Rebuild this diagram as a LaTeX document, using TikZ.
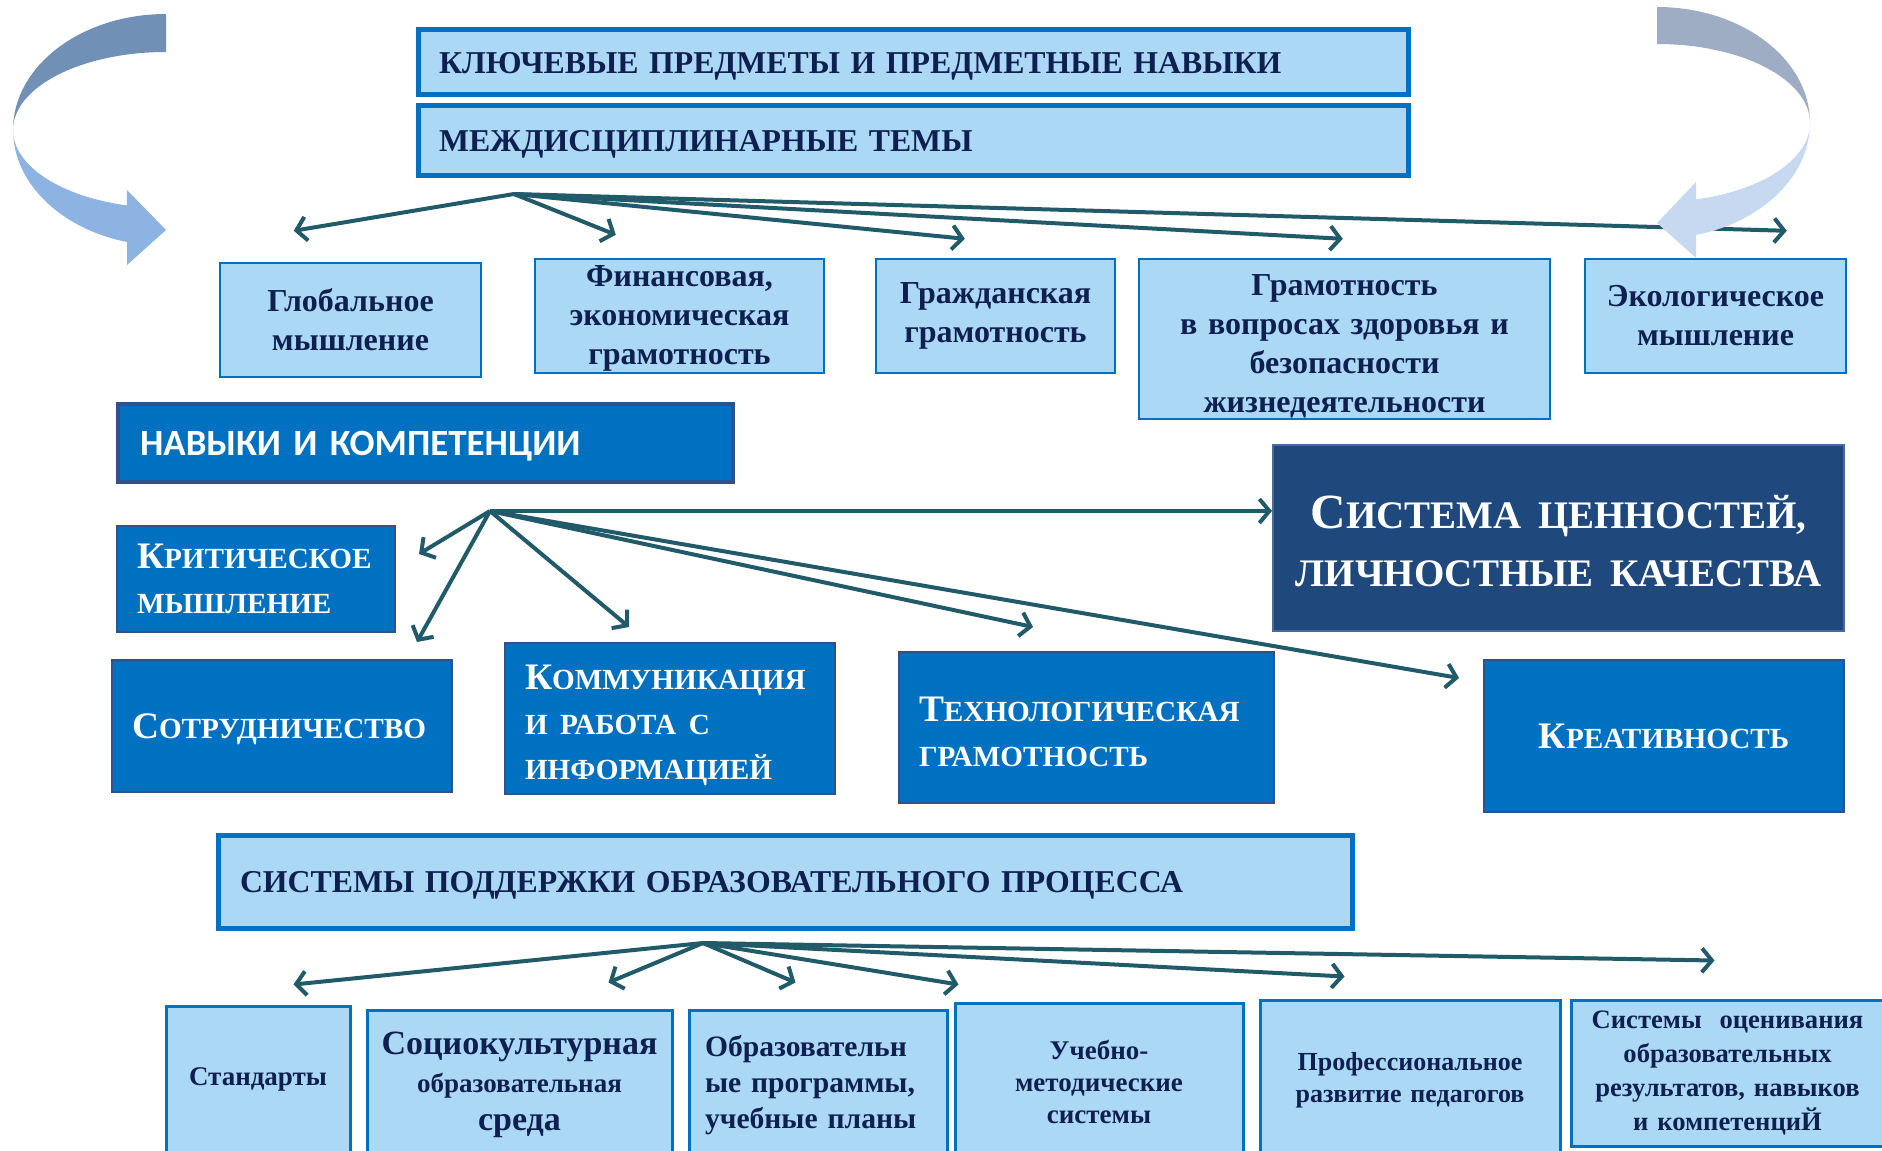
\documentclass[tikz,border=0pt]{standalone}
\usepackage{fontspec}
\setmainfont{Liberation Serif}
\setsansfont{Carlito}
\usetikzlibrary{calc}
\usetikzlibrary{arrows.meta}

\definecolor{navytxt}{HTML}{0F2050}
\definecolor{lightfill}{HTML}{ABD9F5}
\definecolor{boxline}{HTML}{0070C0}
\definecolor{midfill}{HTML}{0070C0}
\definecolor{midline}{HTML}{2F528F}
\definecolor{darkfill}{HTML}{1F497D}
\definecolor{darkline}{HTML}{4A6A98}
\definecolor{fanline}{HTML}{215A69}
\definecolor{ldark}{HTML}{7090B6}
\definecolor{llight}{HTML}{8DB3E2}
\definecolor{rdark}{HTML}{9EADC3}
\definecolor{rlight}{HTML}{C6D9F0}

\newcommand{\scA}[1]{{\fontsize{19.5}{29}\selectfont #1}}
\newcommand{\scB}[1]{{\fontsize{14.6}{22.5}\selectfont #1}}
\newcommand{\lgtxt}[1]{{\fontsize{17}{19}\selectfont #1}}
\newcommand{\lift}[1]{\rule{0pt}{#1}}

\begin{document}
\begin{tikzpicture}[x=0.5pt,y=-0.5pt,
  headbox/.style={draw=boxline,line width=2.5pt,fill=lightfill,text=navytxt,font=\bfseries\fontsize{15.9}{19}\selectfont,align=left,inner xsep=10.5pt,inner ysep=0pt,text height=11pt,text depth=0pt},
  topic/.style={draw=boxline,line width=1.2pt,fill=lightfill,text=navytxt,font=\bfseries\fontsize{16}{19.5}\selectfont,align=center,inner sep=0pt},
  skill/.style={draw=midline,line width=1pt,fill=midfill,text=white,font=\bfseries\fontsize{18.7}{22.5}\selectfont,align=left,inner xsep=10pt,inner ysep=0pt},
  support/.style={draw=boxline,line width=1.5pt,fill=lightfill,text=navytxt,align=center,inner sep=0pt},
  fan/.style={draw=fanline,line width=2pt,-{Straight Barb[length=5pt,width=12pt]}}]
\useasboundingbox (0,0) rectangle (1882,1150);
\clip (0,0) rectangle (1882,1150);

\node[headbox,text width=474pt,minimum height=32.5pt] (keys) at (913,62.5) {КЛЮЧЕВЫЕ ПРЕДМЕТЫ И ПРЕДМЕТНЫЕ НАВЫКИ};
\node[headbox,text width=474pt,minimum height=35pt] (themes) at (913,141) {МЕЖДИСЦИПЛИНАРНЫЕ ТЕМЫ};

\node[topic,text width=130.5pt,minimum height=57pt] (glob) at (350.5,320) {Глобальное\\мышление};
\node[topic,text width=144.5pt,minimum height=57pt] (fin) at (679.5,316) {\lift{13pt}Финансовая,\\экономическая\\грамотность};
\node[topic,text width=119.5pt,minimum height=57pt] (civ) at (995.5,316) {Гражданская\\грамотность};
\node[topic,text width=205.5pt,minimum height=80pt] (health) at (1344.5,339) {\lift{17.5pt}Грамотность\\в вопросах здоровья и\\безопасности\\жизнедеятельности};
\node[topic,text width=130.5pt,minimum height=57pt] (eco) at (1715.5,316) {Экологическое\\мышление};

\node[draw=midline,line width=1.8pt,fill=midfill,text=white,font=\sffamily\bfseries\fontsize{18.5}{22}\selectfont,align=left,inner xsep=11pt,inner ysep=0pt,text width=285.5pt,minimum height=39pt,text depth=0pt] (skills) at (425.5,443) {НАВЫКИ И КОМПЕТЕНЦИИ};
\node[draw=darkline,line width=1pt,fill=darkfill,text=white,font=\bfseries\fontsize{24.6}{29}\selectfont,align=center,inner sep=0pt,text width=285.5pt,minimum height=93pt] (vals) at (1558.5,538) {\lift{20pt}С\scA{ИСТЕМА ЦЕННОСТЕЙ,}\\\scA{ЛИЧНОСТНЫЕ КАЧЕСТВА}};

\node[skill,text width=119pt,minimum height=53pt] (crit) at (256,579) {К\scB{РИТИЧЕСКОЕ}\\\scB{МЫШЛЕНИЕ}};
\node[skill,text width=150pt,minimum height=66pt,text depth=0pt] (coop) at (282,726) {С\scB{ОТРУДНИЧЕСТВО}};
\node[skill,text width=145pt,minimum height=75.5pt] (comm) at (670,718.5) {\lift{19.6pt}К\scB{ОММУНИКАЦИЯ}\\\scB{И РАБОТА С}\\\scB{ИНФОРМАЦИЕЙ}};
\node[skill,text width=167.5pt,minimum height=75.5pt] (tech) at (1086.5,727.5) {\lift{16.7pt}Т\scB{ЕХНОЛОГИЧЕСКАЯ}\\\scB{ГРАМОТНОСТЬ}};
\node[skill,align=center,inner xsep=0pt,text width=180pt,minimum height=76pt,text depth=0pt] (creat) at (1664,736) {К\scB{РЕАТИВНОСТЬ}};

\node[support,line width=2.5pt,font=\bfseries\fontsize{15.9}{19}\selectfont,align=left,inner xsep=11pt,text width=545pt,minimum height=46.5pt,text height=11pt,text depth=0pt] (supp) at (785,881.5) {СИСТЕМЫ ПОДДЕРЖКИ ОБРАЗОВАТЕЛЬНОГО ПРОЦЕССА};

\node[support,font=\bfseries\fontsize{13.5}{16}\selectfont,text width=92pt,minimum height=73pt] (std) at (258,1079) {Стандарты};
\node[support,font=\bfseries\fontsize{13.5}{19}\selectfont,text width=152.5pt,minimum height=75pt] (socio) at (519.5,1085) {\lgtxt{Социокультурная}\\образовательная\\\lgtxt{среда}};
\node[support,font=\bfseries\fontsize{14.8}{18}\selectfont,align=left,inner xsep=8pt,text width=113pt,minimum height=75pt] (progr) at (818,1085) {Образовательн\\ые программы,\\учебные планы};
\node[support,font=\bfseries\fontsize{13.5}{16}\selectfont,text width=144pt,minimum height=78.5pt] (metod) at (1099,1081.5) {Учебно-\\методические\\системы};
\node[support,font=\bfseries\fontsize{13}{16}\selectfont,text width=150pt,minimum height=80pt] (prof) at (1410,1080) {Профессиональное\\развитие педагогов};
\node[support,font=\bfseries\fontsize{13.3}{17}\selectfont,text width=156.5pt,minimum height=73pt] (eval) at (1727.5,1073) {Системы\ \ оценивания\\образовательных\\результатов, навыков\\и компетенциЙ};

\coordinate (hubA) at (514,194);
\coordinate (hubB) at (490,511);
\coordinate (hubC) at (703,943);

\foreach \t/\a/\dx/\dy in {glob/north west/75/-31,fin/north west/82/-23,civ/north west/90/-19,health/north west/205/-19,eco/north west/203/-27}
  \draw[fan] (hubA) -- ([shift={(\dx,\dy)}]\t.\a);
\foreach \t/\a/\dx/\dy in {crit/east/23/-25,coop/north east/-36/-17,comm/north west/125/-15,tech/north west/135/-24,creat/west/-24/-58}
  \draw[fan] (hubB) -- ([shift={(\dx,\dy)}]\t.\a);
\draw[fan] (hubB) -- (hubB -| vals.west);
\foreach \t/\dx/\dy in {std/129/-20,socio/243/-26,progr/108/-26,metod/5/-17,prof/86/-22,eval/145/-38}
  \draw[fan] (hubC) -- ([shift={(\dx,\dy)}]\t.north west);

\fill[ldark] (166,14) arc[start angle=-90,end angle=-180,x radius=153,y radius=116]
  arc[start angle=180,end angle=270,x radius=153,y radius=78] -- cycle;
\fill[llight] (13,130) arc[start angle=180,end angle=104.8,x radius=153,y radius=78]
  -- (127,190) -- (166,230) -- (127,265) -- (127,242)
  arc[start angle=104.8,end angle=180,x radius=153,y radius=116] -- cycle;

\fill[rdark] (1657,7) arc[start angle=-90,end angle=0,x radius=153,y radius=116]
  arc[start angle=0,end angle=-90,x radius=153,y radius=79] -- cycle;
\fill[rlight] (1810,123) arc[start angle=0,end angle=75.2,x radius=153,y radius=79]
  -- (1696,182) -- (1657,223) -- (1696,258) -- (1696,235)
  arc[start angle=75.2,end angle=0,x radius=153,y radius=116] -- cycle;
\end{tikzpicture}
\end{document}
